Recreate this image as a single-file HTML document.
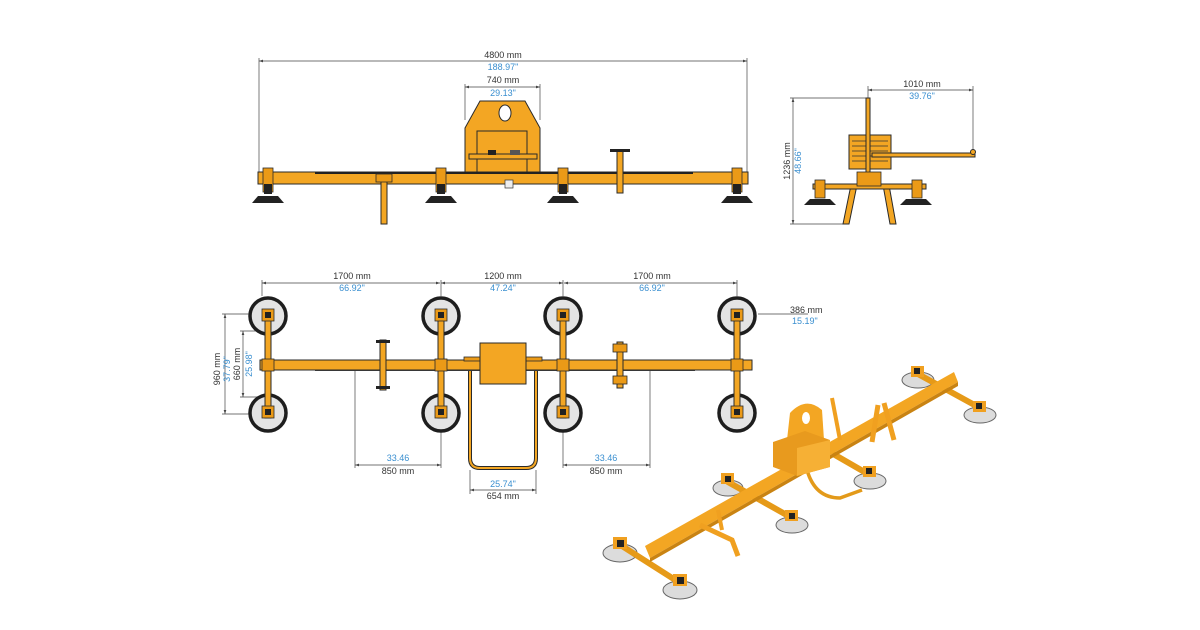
<!DOCTYPE html>
<html><head><meta charset="utf-8"><style>
html,body{margin:0;padding:0;background:#fff;}
svg{display:block;}
text{font-family:"Liberation Sans",sans-serif;font-size:9px;}
.k{fill:#333;} .b{fill:#3a8fd0;}
.dl{stroke:#444;stroke-width:0.7;fill:none;}
.o{fill:#f3a623;stroke:#2a2a2a;stroke-width:1;}
.o2{fill:#eb9a17;stroke:#2a2a2a;stroke-width:0.8;}
.dk{fill:#222;}
.pad{fill:#dcdcdc;stroke:#666;stroke-width:1;}
</style></head><body>
<svg width="1200" height="630" viewBox="0 0 1200 630" xmlns="http://www.w3.org/2000/svg">
<defs>
<marker id="a" markerWidth="6" markerHeight="6" refX="6" refY="3" orient="auto-start-reverse"><path d="M0,1 L6,3 L0,5z" fill="#444"/></marker>
</defs>

<!-- ===== FRONT VIEW ===== -->
<line class="dl" x1="259" y1="61" x2="747" y2="61" marker-start="url(#a)" marker-end="url(#a)"/>
<line class="dl" x1="259" y1="58" x2="259" y2="172"/><line class="dl" x1="747" y1="58" x2="747" y2="172"/>
<text class="k" x="503" y="58" text-anchor="middle">4800 mm</text>
<text class="b" x="503" y="70" text-anchor="middle">188.97"</text>
<line class="dl" x1="465" y1="87" x2="540" y2="87" marker-start="url(#a)" marker-end="url(#a)"/>
<line class="dl" x1="465" y1="84" x2="465" y2="120"/><line class="dl" x1="540" y1="84" x2="540" y2="120"/>
<text class="k" x="503" y="83" text-anchor="middle">740 mm</text>
<text class="b" x="503" y="96" text-anchor="middle">29.13"</text>
<path class="o" d="M465,128 L480,101 L525,101 L540,128 L540,174 L465,174Z"/>
<ellipse cx="505" cy="113" rx="6" ry="8" fill="#fff" stroke="#2a2a2a"/>
<rect x="477" y="131" width="50" height="43" fill="none" stroke="#2a2a2a" stroke-width="1"/>
<rect x="469" y="154" width="68" height="5" class="o"/>
<rect x="488" y="150" width="8" height="5" class="dk"/><rect x="510" y="150" width="10" height="5" fill="#555"/>
<rect x="258" y="172" width="490" height="12" class="o"/>
<line x1="315" y1="173" x2="693" y2="173" stroke="#222" stroke-width="2"/>
<g id="ft"><rect x="263" y="168" width="10" height="24" class="o2"/><rect x="264" y="184" width="8" height="10" class="dk"/><path d="M252,203 L258,196 L278,196 L284,203Z" class="dk"/></g>
<use href="#ft" x="173"/><use href="#ft" x="295"/><use href="#ft" x="469"/>
<rect x="381" y="178" width="6" height="46" class="o"/><rect x="376" y="174" width="16" height="8" class="o2"/>
<rect x="617" y="151" width="6" height="42" class="o"/><rect x="610" y="149" width="20" height="3" class="dk"/>
<rect x="505" y="180" width="8" height="8" fill="#eee" stroke="#333" stroke-width="0.7"/>

<!-- ===== SIDE VIEW ===== -->
<line class="dl" x1="793" y1="98" x2="793" y2="224" marker-start="url(#a)" marker-end="url(#a)"/>
<line class="dl" x1="790" y1="98" x2="868" y2="98"/><line class="dl" x1="790" y1="224" x2="845" y2="224"/>
<text class="k" transform="translate(790,161) rotate(-90)" text-anchor="middle">1236 mm</text>
<text class="b" transform="translate(801,161) rotate(-90)" text-anchor="middle">48.66"</text>
<line class="dl" x1="868" y1="90" x2="973" y2="90" marker-start="url(#a)" marker-end="url(#a)"/>
<line class="dl" x1="868" y1="86" x2="868" y2="100"/><line class="dl" x1="973" y1="86" x2="973" y2="150"/>
<text class="k" x="922" y="87" text-anchor="middle">1010 mm</text>
<text class="b" x="922" y="99" text-anchor="middle">39.76"</text>
<rect x="849" y="135" width="42" height="34" class="o"/>
<g stroke="#333" stroke-width="0.8"><line x1="852" y1="141" x2="888" y2="141"/><line x1="852" y1="146" x2="888" y2="146"/><line x1="852" y1="151" x2="888" y2="151"/><line x1="852" y1="156" x2="888" y2="156"/><line x1="852" y1="161" x2="888" y2="161"/></g>
<rect x="866" y="98" width="4" height="82" class="o"/>
<rect x="872" y="153" width="103" height="4" class="o"/><circle cx="973" cy="152" r="2.5" class="o"/>
<path class="o" d="M851,185 L857,185 L849,224 L843,224Z"/><path class="o" d="M883,185 L889,185 L896,224 L890,224Z"/>
<rect x="813" y="184" width="113" height="5" class="o"/>
<rect x="857" y="172" width="24" height="14" class="o2"/>
<rect x="815" y="180" width="10" height="18" class="o2"/><rect x="912" y="180" width="10" height="18" class="o2"/>
<path d="M804,205 L810,199 L830,199 L836,205Z" class="dk"/><path d="M900,205 L906,199 L926,199 L932,205Z" class="dk"/>

<!-- ===== TOP VIEW ===== -->
<line class="dl" x1="262" y1="283" x2="440" y2="283" marker-start="url(#a)" marker-end="url(#a)"/>
<line class="dl" x1="441" y1="283" x2="563" y2="283" marker-start="url(#a)" marker-end="url(#a)"/>
<line class="dl" x1="564" y1="283" x2="737" y2="283" marker-start="url(#a)" marker-end="url(#a)"/>
<g class="dl"><line x1="262" y1="280" x2="262" y2="296"/><line x1="441" y1="280" x2="441" y2="296"/><line x1="563" y1="280" x2="563" y2="296"/><line x1="737" y1="280" x2="737" y2="296"/></g>
<text class="k" x="352" y="279" text-anchor="middle">1700 mm</text><text class="b" x="352" y="291" text-anchor="middle">66.92"</text>
<text class="k" x="503" y="279" text-anchor="middle">1200 mm</text><text class="b" x="503" y="291" text-anchor="middle">47.24"</text>
<text class="k" x="652" y="279" text-anchor="middle">1700 mm</text><text class="b" x="652" y="291" text-anchor="middle">66.92"</text>
<line class="dl" x1="758" y1="314" x2="808" y2="314"/>
<text class="k" x="790" y="313">386 mm</text><text class="b" x="792" y="324">15.19"</text>
<line class="dl" x1="225" y1="314" x2="225" y2="414" marker-start="url(#a)" marker-end="url(#a)"/>
<line class="dl" x1="222" y1="314" x2="262" y2="314"/><line class="dl" x1="222" y1="414" x2="262" y2="414"/>
<line class="dl" x1="243" y1="331" x2="243" y2="397" marker-start="url(#a)" marker-end="url(#a)"/>
<line class="dl" x1="240" y1="331" x2="262" y2="331"/><line class="dl" x1="240" y1="397" x2="262" y2="397"/>
<text class="k" transform="translate(220,369) rotate(-90)" text-anchor="middle">960 mm</text>
<text class="b" transform="translate(230,369) rotate(-90)" text-anchor="middle">37.79"</text>
<text class="k" transform="translate(240,364) rotate(-90)" text-anchor="middle">660 mm</text>
<text class="b" transform="translate(252,364) rotate(-90)" text-anchor="middle">25.98"</text>
<line class="dl" x1="355" y1="368" x2="355" y2="468"/><line class="dl" x1="441" y1="430" x2="441" y2="468"/>
<line class="dl" x1="355" y1="465" x2="441" y2="465" marker-start="url(#a)" marker-end="url(#a)"/>
<text class="b" x="398" y="461" text-anchor="middle">33.46</text><text class="k" x="398" y="474" text-anchor="middle">850 mm</text>
<line class="dl" x1="650" y1="368" x2="650" y2="468"/><line class="dl" x1="563" y1="430" x2="563" y2="468"/>
<line class="dl" x1="563" y1="465" x2="650" y2="465" marker-start="url(#a)" marker-end="url(#a)"/>
<text class="b" x="606" y="461" text-anchor="middle">33.46</text><text class="k" x="606" y="474" text-anchor="middle">850 mm</text>
<line class="dl" x1="470" y1="470" x2="470" y2="494"/><line class="dl" x1="536" y1="470" x2="536" y2="494"/>
<line class="dl" x1="470" y1="490" x2="536" y2="490" marker-start="url(#a)" marker-end="url(#a)"/>
<text class="b" x="503" y="487" text-anchor="middle">25.74"</text><text class="k" x="503" y="499" text-anchor="middle">654 mm</text>
<g id="cp">
<circle cx="268" cy="316" r="18" fill="#e4e4e4" stroke="#1e1e1e" stroke-width="3.5"/>
<circle cx="268" cy="413" r="18" fill="#e4e4e4" stroke="#1e1e1e" stroke-width="3.5"/>
<rect x="265" y="312" width="6" height="106" class="o"/>
<rect x="262" y="309" width="12" height="12" class="o2"/><rect x="265" y="312" width="6" height="6" class="dk"/>
<rect x="262" y="406" width="12" height="12" class="o2"/><rect x="265" y="409" width="6" height="6" class="dk"/>
</g>
<use href="#cp" x="173"/><use href="#cp" x="295"/><use href="#cp" x="469"/>
<path d="M470,364 L470,458 Q470,468 480,468 L526,468 Q536,468 536,458 L536,364" fill="none" stroke="#2a2a2a" stroke-width="4"/>
<path d="M470,364 L470,458 Q470,468 480,468 L526,468 Q536,468 536,458 L536,364" fill="none" stroke="#f3a623" stroke-width="2"/>
<rect x="315" y="368" width="380" height="3" fill="#444"/>
<rect x="260" y="360" width="492" height="10" class="o"/>
<g><rect x="262" y="359" width="12" height="12" class="o2"/><rect x="435" y="359" width="12" height="12" class="o2"/><rect x="557" y="359" width="12" height="12" class="o2"/><rect x="731" y="359" width="12" height="12" class="o2"/></g>
<rect x="464" y="357" width="78" height="4" class="o2"/>
<rect x="480" y="343" width="46" height="41" class="o"/>
<rect x="380" y="340" width="6" height="50" class="o"/><rect x="376" y="340" width="14" height="3" class="dk"/><rect x="376" y="386" width="14" height="3" class="dk"/>
<rect x="617" y="342" width="6" height="46" class="o"/><rect x="613" y="344" width="14" height="8" class="o2"/><rect x="613" y="376" width="14" height="8" class="o2"/>

<!-- ===== ISO VIEW ===== -->
<g class="pad">
<ellipse cx="620" cy="553" rx="17" ry="9"/><ellipse cx="680" cy="590" rx="17" ry="9"/>
<ellipse cx="728" cy="488" rx="15" ry="8"/><ellipse cx="792" cy="525" rx="16" ry="8"/>
<ellipse cx="870" cy="481" rx="16" ry="8"/><ellipse cx="918" cy="380" rx="16" ry="8"/><ellipse cx="980" cy="415" rx="16" ry="8"/>
</g>
<g stroke="#e69a18" stroke-width="6" stroke-linecap="round" fill="none">
<line x1="622" y1="546" x2="680" y2="583"/><line x1="728" y1="482" x2="792" y2="518"/>
<line x1="918" y1="374" x2="980" y2="408"/><line x1="835" y1="455" x2="868" y2="474"/>
</g>
<path d="M807,470 Q815,498 840,498 L862,490" fill="none" stroke="#e39a1a" stroke-width="3.5"/>
<g fill="#f0a020">
<rect x="613" y="537" width="14" height="12"/><rect x="673" y="574" width="14" height="12"/><rect x="721" y="473" width="13" height="11"/><rect x="785" y="510" width="13" height="11"/><rect x="863" y="466" width="13" height="11"/><rect x="911" y="366" width="13" height="11"/><rect x="973" y="401" width="13" height="11"/>
</g>
<path d="M645,546 L954,372 L958,382 L650,558Z" fill="#f3a623"/>
<path d="M650,558 L958,382 L958,386 L650,562Z" fill="#c98312"/>
<path d="M700,525 L732,540 L738,556" fill="none" stroke="#f0a020" stroke-width="5"/>
<path d="M718,510 L722,530" fill="none" stroke="#f0a020" stroke-width="4"/>
<path d="M878,405 L872,442 M884,403 L894,440" stroke="#f0a020" stroke-width="5"/>
<path d="M832,398 L840,440" stroke="#f0a020" stroke-width="4"/>
<path d="M787,440 L790,413 Q806,396 822,410 L824,440Z" fill="#f3a623"/>
<ellipse cx="806" cy="418" rx="4" ry="6" fill="#fff"/>
<path d="M773,442 L805,431 L830,440 L830,467 L797,476 L773,467Z" fill="#e89a1e"/>
<path d="M797,448 L830,440 L830,467 L797,476Z" fill="#f6b035"/>
<g class="dk"><rect x="617" y="540" width="7" height="7"/><rect x="677" y="577" width="7" height="7"/><rect x="725" y="476" width="6" height="6"/><rect x="789" y="513" width="6" height="6"/><rect x="866" y="468" width="6" height="6"/><rect x="914" y="368" width="6" height="6"/><rect x="976" y="403" width="6" height="6"/></g>
</svg>
</body></html>
